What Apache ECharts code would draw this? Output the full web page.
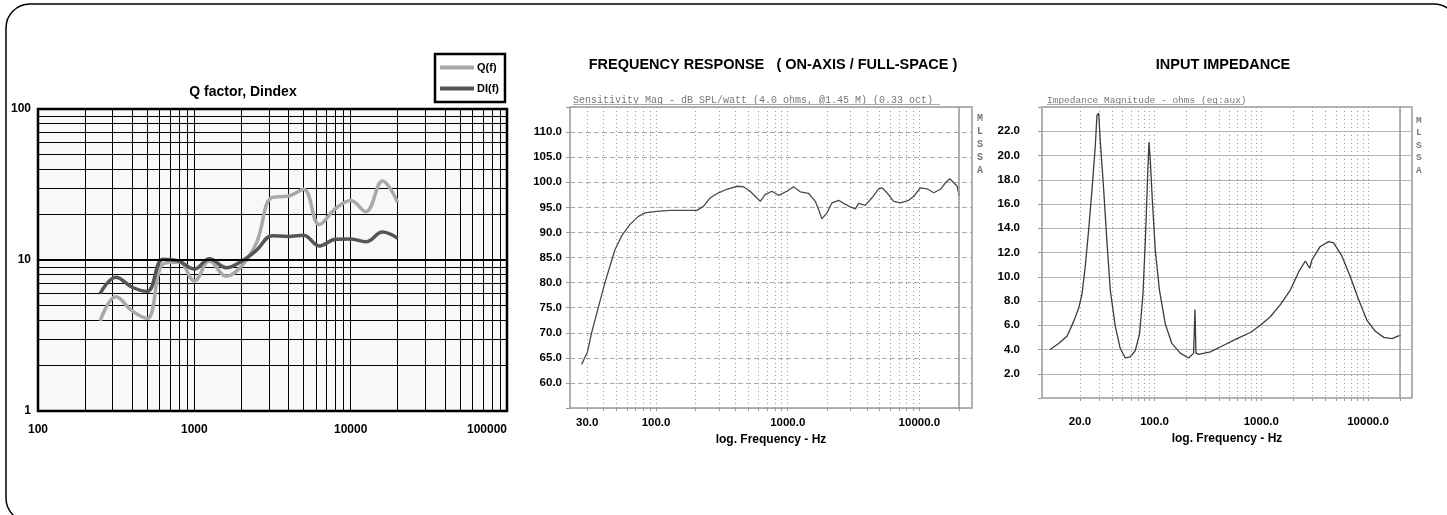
<!DOCTYPE html>
<html>
<head>
<meta charset="utf-8">
<script src="https://cdn.jsdelivr.net/npm/echarts@6/dist/echarts.min.js"></script>
<style>
  html, body { margin: 0; padding: 0; background: #fff; }
  #chart { width: 1447px; height: 515px; }
</style>
</head>
<body>
<div id="chart"></div>
<script>
// ---- Q factor and directivity index, third-octave bands (Hz) ----
const bandHz = [250, 315, 400, 500, 630, 800, 1000, 1250, 1600, 2000, 2500, 3150, 4000, 5000, 6300, 8000, 10000, 12500, 16000, 20000];
const qFactor = [3.95, 5.7, 4.6, 4.1, 9.4, 9.7, 7.26, 9.85, 7.8, 9.1, 13.0, 26.0, 26.5, 29.4, 17.2, 21.9, 24.8, 20.9, 33.4, 24.0];
const dIndex = [6.0, 7.7, 6.6, 6.2, 10.1, 9.8, 8.7, 10.2, 8.9, 9.8, 11.6, 14.5, 14.3, 14.6, 12.4, 13.7, 13.8, 13.2, 15.3, 13.9];
const qTickLabelsX = [100, 1000, 10000, 100000];
const qTickLabelsY = [1, 10, 100];
const qMajorGridY = [10];

// ---- On-axis frequency response, dB SPL/W ----
const splHz = [27.2, 30, 32.4, 36.4, 40.9, 44.7, 48.8, 54.8, 63.4, 73.4, 82.5, 101, 128, 204, 229, 258, 298, 345, 410, 461, 518, 618, 675, 758, 851, 986, 1107, 1245, 1439, 1618, 1714, 1818, 1986, 2168, 2437, 2660, 2988, 3262, 3457, 3882, 4364, 4906, 5200, 5678, 6383, 7174, 8297, 9063, 10186, 11450, 12860, 14450, 15780, 17020, 18250, 19350, 20140];
const splDb = [63.7, 66.0, 70.0, 75.0, 80.0, 83.3, 86.6, 89.3, 91.6, 93.2, 93.9, 94.2, 94.4, 94.4, 95.2, 96.9, 97.9, 98.6, 99.2, 99.1, 98.2, 96.2, 97.6, 98.2, 97.4, 98.2, 99.1, 98.1, 97.8, 96.2, 94.6, 92.7, 93.9, 95.9, 96.4, 95.8, 95.1, 94.7, 95.8, 95.4, 96.9, 98.7, 98.9, 97.9, 96.2, 95.9, 96.4, 97.2, 98.9, 98.7, 97.9, 98.6, 99.9, 100.7, 99.9, 99.2, 97.2];
const splTickLabelsX = [30, 100, 1000, 10000];
const splTickLabelsY = [60, 65, 70, 75, 80, 85, 90, 95, 100, 105, 110];

// ---- Input impedance magnitude, ohms ----
const zHz = [10.5, 12.6, 15.1, 17.4, 19.4, 20.9, 22.4, 24.1, 25.9, 27.8, 28.8, 29.9, 31.0, 33.3, 35.8, 38.4, 42.8, 47.6, 53.1, 59.2, 65.9, 72.3, 77.8, 82.4, 86.0, 88.5, 91.0, 95.1, 101.4, 111, 126, 145, 174, 208, 232, 239, 244, 259, 333, 444, 592, 789, 979, 1215, 1508, 1871, 2240, 2587, 2840, 2987, 3575, 4278, 4767, 5704, 6826, 8176, 9790, 11720, 14030, 16800, 20370];
const zOhm = [4.0, 4.5, 5.1, 6.3, 7.4, 8.6, 10.9, 13.9, 17.2, 20.8, 23.3, 23.5, 21.1, 17.2, 12.8, 8.9, 5.9, 4.1, 3.3, 3.4, 3.9, 5.3, 8.6, 13.6, 18.3, 21.1, 19.7, 16.4, 12.2, 8.9, 6.1, 4.5, 3.7, 3.3, 3.7, 7.3, 3.7, 3.6, 3.8, 4.35, 4.9, 5.4, 6.0, 6.7, 7.7, 8.9, 10.4, 11.3, 10.7, 11.4, 12.5, 12.9, 12.8, 11.7, 10.0, 8.1, 6.4, 5.5, 5.0, 4.9, 5.2];
const zTickLabelsX = [20, 100, 1000, 10000];
const zTickLabelsY = [2, 4, 6, 8, 10, 12, 14, 16, 18, 20, 22];

const edgeHz = 20000;   // upper limit line of the measurement plots

const SANS = '"Liberation Sans", Arial, sans-serif';
const MONO = '"Liberation Mono", "DejaVu Sans Mono", monospace';

// 1..9 x 10^k grid positions between lo and hi
function decadeSteps(lo, hi) {
  const out = [];
  for (let p = -1; p <= 6; p++) {
    for (let m = 1; m <= 9; m++) {
      const v = m * Math.pow(10, p);
      if (v >= lo * 0.999 && v <= hi * 1.001) out.push(Number(v.toPrecision(6)));
    }
  }
  return out;
}
const pairs = (xs, ys) => xs.map((x, i) => [x, ys[i]]);

const chart = echarts.init(document.getElementById('chart'), null, { renderer: 'canvas' });

const tickFont = { fontFamily: SANS, fontWeight: 'bold', color: '#000' };

const option = {
  animation: false,
  backgroundColor: '#fff',
  legend: {
    data: ['Q(f)', 'DI(f)'],
    orient: 'vertical',
    left: 435,
    top: 54,
    padding: [8, 6, 8, 5],
    itemGap: 10,
    itemWidth: 34,
    itemHeight: 4,
    icon: 'rect',
    backgroundColor: '#fff',
    borderColor: '#000',
    borderWidth: 2.5,
    textStyle: { fontFamily: SANS, fontWeight: 'bold', fontSize: 11, color: '#000', padding: [0, 0, 0, -2] }
  },
  grid: [
    { left: 38, top: 109, width: 469, height: 302, show: true, backgroundColor: '#f8f8f8', borderColor: '#000', borderWidth: 2.5 },
    { left: 570, top: 107, width: 402, height: 301, show: true, backgroundColor: 'transparent', borderColor: '#999', borderWidth: 1.5 },
    { left: 1042, top: 107, width: 370, height: 291, show: true, backgroundColor: 'transparent', borderColor: '#999', borderWidth: 1.5 }
  ],
  xAxis: [
    {
      gridIndex: 0, type: 'log', logBase: 10, min: 100, max: 100000,
      axisLine: { show: false },
      axisTick: { show: false, customValues: decadeSteps(100, 100000) },
      axisLabel: { customValues: qTickLabelsX, margin: 13, fontSize: 12, ...tickFont, alignMaxLabel: 'right', formatter: v => String(v) },
      splitLine: { show: true, lineStyle: { color: '#000', width: 1, type: 'solid' } }
    },
    {
      gridIndex: 1, type: 'log', logBase: 10, min: 22.2, max: 25100,
      axisLine: { show: false },
      axisTick: { show: true, length: 3, customValues: decadeSteps(30, 20000), lineStyle: { color: '#999' } },
      axisLabel: { customValues: splTickLabelsX, margin: 9, fontSize: 11.5, ...tickFont, formatter: v => Number(v).toFixed(1) },
      splitLine: { show: true, lineStyle: { color: '#9a9a9a', width: 1, type: [1, 3] } },
      name: 'log. Frequency - Hz', nameLocation: 'middle', nameGap: 22,
      nameTextStyle: { fontFamily: SANS, fontWeight: 'bold', fontSize: 12, color: '#000' }
    },
    {
      gridIndex: 2, type: 'log', logBase: 10, min: 8.8, max: 25850,
      axisLine: { show: false },
      axisTick: { show: true, length: 3, customValues: decadeSteps(20, 20000), lineStyle: { color: '#999' } },
      axisLabel: { customValues: zTickLabelsX, margin: 18, fontSize: 11.5, ...tickFont, formatter: v => Number(v).toFixed(1) },
      splitLine: { show: true, lineStyle: { color: '#9a9a9a', width: 1, type: [1, 3] } },
      name: 'log. Frequency - Hz', nameLocation: 'middle', nameGap: 31,
      nameTextStyle: { fontFamily: SANS, fontWeight: 'bold', fontSize: 12, color: '#000' }
    }
  ],
  yAxis: [
    {
      gridIndex: 0, type: 'log', logBase: 10, min: 1, max: 100,
      axisLine: { show: false },
      axisTick: { show: false, customValues: decadeSteps(1, 100) },
      axisLabel: { customValues: qTickLabelsY, margin: 7, fontSize: 12, ...tickFont, formatter: v => String(v) },
      splitLine: { show: true, lineStyle: { color: '#000', width: 1, type: 'solid' } }
    },
    {
      gridIndex: 1, type: 'value', min: 55, max: 115, interval: 5,
      axisLine: { show: false },
      axisTick: { show: true, length: 4, lineStyle: { color: '#999' } },
      axisLabel: { customValues: splTickLabelsY, margin: 8, fontSize: 11.5, ...tickFont, formatter: v => Number(v).toFixed(1) },
      splitLine: { show: true, lineStyle: { color: '#a8a8a8', width: 1, type: [5, 3] } }
    },
    {
      gridIndex: 2, type: 'value', min: 0, max: 24, interval: 2,
      axisLine: { show: false },
      axisTick: { show: true, length: 4, lineStyle: { color: '#999' } },
      axisLabel: { customValues: zTickLabelsY, margin: 22, fontSize: 11.5, ...tickFont, formatter: v => Number(v).toFixed(1) },
      splitLine: { show: true, lineStyle: { color: '#b4b4b4', width: 1, type: 'solid' } }
    }
  ],
  series: [
    {
      name: 'Q(f)', type: 'line', xAxisIndex: 0, yAxisIndex: 0,
      data: pairs(bandHz, qFactor), smooth: 0.4, showSymbol: false,
      color: '#a9a9a9', lineStyle: { width: 3.5, color: '#a9a9a9' }, z: 3
    },
    {
      name: 'DI(f)', type: 'line', xAxisIndex: 0, yAxisIndex: 0,
      data: pairs(bandHz, dIndex), smooth: 0.4, showSymbol: false,
      color: '#555', lineStyle: { width: 3.5, color: '#555' }, z: 4,
      markLine: {
        silent: true, symbol: 'none', label: { show: false },
        lineStyle: { color: '#000', width: 2, type: 'solid' },
        data: qMajorGridY.map(v => ({ yAxis: v }))
      }
    },
    {
      name: 'SPL', type: 'line', xAxisIndex: 1, yAxisIndex: 1,
      data: pairs(splHz, splDb), showSymbol: false,
      lineStyle: { width: 1.3, color: '#4a4a4a' },
      markLine: {
        silent: true, symbol: 'none', label: { show: false },
        lineStyle: { color: '#999', width: 1.5, type: 'solid' },
        data: [{ xAxis: edgeHz }]
      }
    },
    {
      name: 'Impedance', type: 'line', xAxisIndex: 2, yAxisIndex: 2,
      data: pairs(zHz, zOhm), showSymbol: false,
      lineStyle: { width: 1.3, color: '#3c3c3c' },
      markLine: {
        silent: true, symbol: 'none', label: { show: false },
        lineStyle: { color: '#999', width: 1.5, type: 'solid' },
        data: [{ xAxis: edgeHz }]
      }
    }
  ],
  graphic: [
    // rounded page frame
    { type: 'rect', silent: true, z: 0, shape: { x: 6, y: 4, width: 1452, height: 518, r: 24 },
      style: { fill: null, stroke: '#000', lineWidth: 1.5 } },
    // panel titles
    { type: 'text', x: 243, y: 92, style: { text: 'Q factor, Dindex', align: 'center', verticalAlign: 'middle',
      font: 'bold 14px ' + SANS, fill: '#000' } },
    { type: 'text', x: 773, y: 65, style: { text: 'FREQUENCY RESPONSE   ( ON-AXIS / FULL-SPACE )', align: 'center', verticalAlign: 'middle',
      font: 'bold 14.5px ' + SANS, fill: '#000' } },
    { type: 'text', x: 1223, y: 65, style: { text: 'INPUT IMPEDANCE', align: 'center', verticalAlign: 'middle',
      font: 'bold 14.5px ' + SANS, fill: '#000' } },
    // analyser captions
    { type: 'text', x: 573, y: 100, style: { text: 'Sensitivity Mag - dB SPL/watt (4.0 ohms, @1.45 M) (0.33 oct)',
      align: 'left', verticalAlign: 'middle', font: '10px ' + MONO, fill: '#777' } },
    { type: 'line', silent: true, shape: { x1: 573, y1: 104.5, x2: 940, y2: 104.5 }, style: { stroke: '#aaa', lineWidth: 1 } },
    { type: 'text', x: 1047, y: 100, style: { text: 'Impedance Magnitude - ohms (eq:aux)',
      align: 'left', verticalAlign: 'middle', font: '9.5px ' + MONO, fill: '#777' } },
    { type: 'line', silent: true, shape: { x1: 1047, y1: 104.5, x2: 1243, y2: 104.5 }, style: { stroke: '#aaa', lineWidth: 1 } },
    { type: 'text', x: 977, y: 112, style: { text: 'M\nL\nS\nS\nA', align: 'left', verticalAlign: 'top',
      font: 'bold 10px ' + MONO, lineHeight: 13, fill: '#777' } },
    { type: 'text', x: 1416, y: 114, style: { text: 'M\nL\nS\nS\nA', align: 'left', verticalAlign: 'top',
      font: 'bold 9.5px ' + MONO, lineHeight: 12.5, fill: '#777' } }
  ]
};

chart.setOption(option);
</script>
</body>
</html>
